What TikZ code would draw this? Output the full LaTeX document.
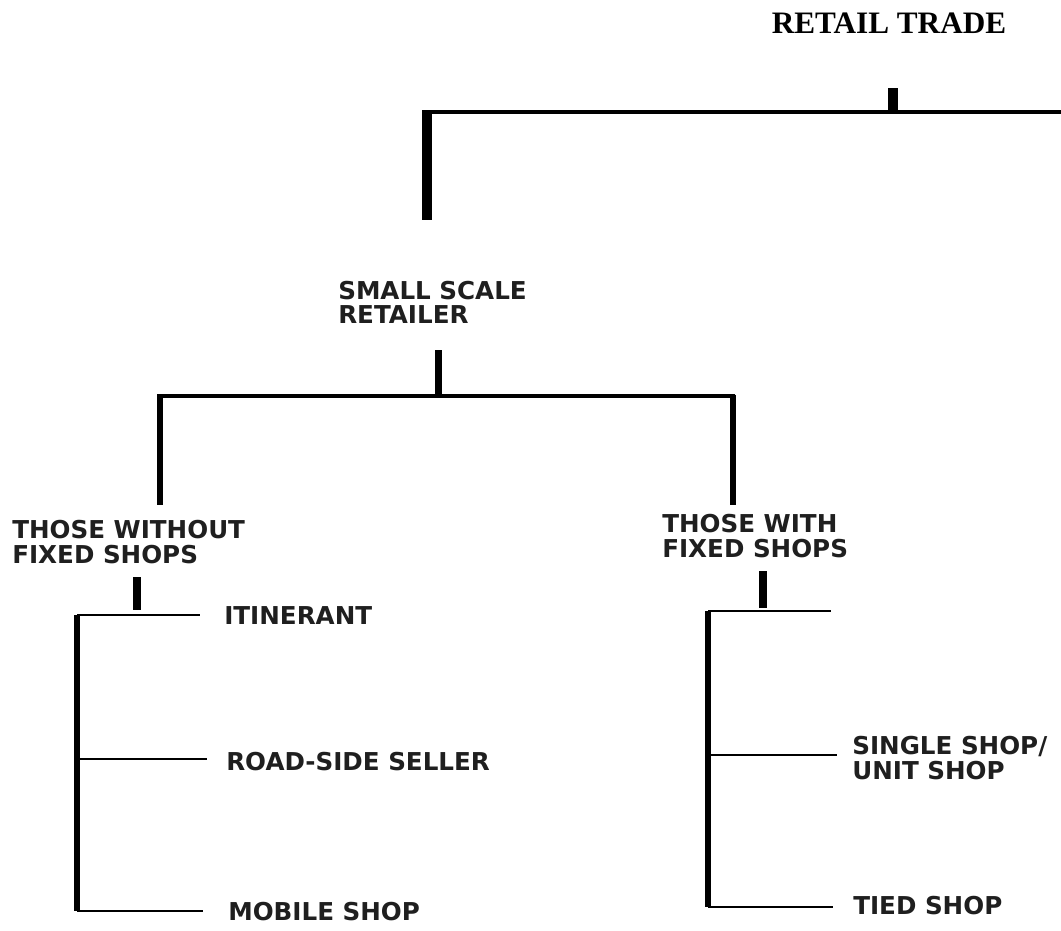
\documentclass[tikz,border=0pt]{standalone}
\usepackage{fontspec}
\setmainfont{Liberation Serif}
\newfontfamily\catfont{DejaVu Sans}
\usetikzlibrary{positioning}
\tikzstyle{heading} = [inner sep=0pt, font=\fontsize{22.2}{24}\selectfont\bfseries]
\tikzstyle{catname} = [anchor=west, inner sep=0pt, align=left, text=black!88, font=\catfont\bfseries\fontsize{17.5}{17.2}\selectfont]
\tikzstyle{tick} = [line width=5.7pt]
\tikzstyle{bar} = [line width=2.6pt]
\tikzstyle{drop} = [line width=4.2pt]
\tikzstyle{twig} = [line width=1.4pt]

\begin{document}
\begin{tikzpicture}[x=0.025cm, y=-0.025cm]
\useasboundingbox (0,0) rectangle (1061,930);

\node (retail) [heading] at (889,23) {RETAIL TRADE};
\node (small) [catname] at (338,302) {SMALL SCALE\\RETAILER};
\node (without) [catname] at (12,542) {THOSE WITHOUT\\FIXED SHOPS};
\node (with) [catname] at (662,536) {THOSE WITH\\FIXED SHOPS};
\node (itinerant) [catname] at (224,616) {ITINERANT};
\node (roadside) [catname] at (226,762) {ROAD-SIDE SELLER};
\node (mobile) [catname] at (228,912) {MOBILE SHOP};
\node (single) [catname] at (852,758) {SINGLE SHOP/\\UNIT SHOP};
\node (tied) [catname] at (853,906) {TIED SHOP};

% retail trade bracket
\coordinate (rtTick) at (893,88);
\coordinate (rtMid) at (893,112);
\coordinate (rtLeft) at (422,112);
\coordinate (rtRight) at (1061,112);
\coordinate (rtCorner) at (427,110.5);
\coordinate (rtDrop) at (427,220);
\draw [line width=7pt] (rtTick) -- (rtMid);
\draw [bar] (rtLeft) -- (rtRight);
\draw [line width=7pt] (rtCorner) -- (rtDrop);

% small scale retailer bracket
\coordinate (ssTick) at (438.5,350);
\coordinate (ssMid) at (438.5,396);
\coordinate (ssLeft) at (157,396);
\coordinate (ssRight) at (735,396);
\coordinate (ssCornerL) at (160,394.5);
\coordinate (ssCornerR) at (733,394.5);
\coordinate (ssDropL) at (160,505);
\coordinate (ssDropR) at (733,505);
\draw [line width=5pt] (ssTick) -- (ssMid);
\draw [bar] (ssLeft) -- (ssRight);
\draw [drop] (ssCornerL) -- (ssDropL);
\draw [drop] (ssCornerR) -- (ssDropR);

% without fixed shops
\coordinate (woTick) at (137,577);
\coordinate (woMid) at (137,610);
\coordinate (woTop) at (77,615);
\coordinate (woRoad) at (77,759);
\coordinate (woBottom) at (77,911);
\draw [tick] (woTick) -- (woMid);
\draw [drop] (woTop) -- (woBottom);
\draw [twig] (woTop) -- (200,615);
\draw [twig] (woRoad) -- (207,759);
\draw [twig] (woBottom) -- (203,911);

% with fixed shops
\coordinate (wfTick) at (763,571);
\coordinate (wfMid) at (763,608);
\coordinate (wfTop) at (708,611);
\coordinate (wfSingle) at (708,755);
\coordinate (wfBottom) at (708,907);
\draw [tick] (wfTick) -- (wfMid);
\draw [drop] (wfTop) -- (wfBottom);
\draw [twig] (wfTop) -- (831,611);
\draw [twig] (wfSingle) -- (837,755);
\draw [twig] (wfBottom) -- (833,907);

\end{tikzpicture}
\end{document}
